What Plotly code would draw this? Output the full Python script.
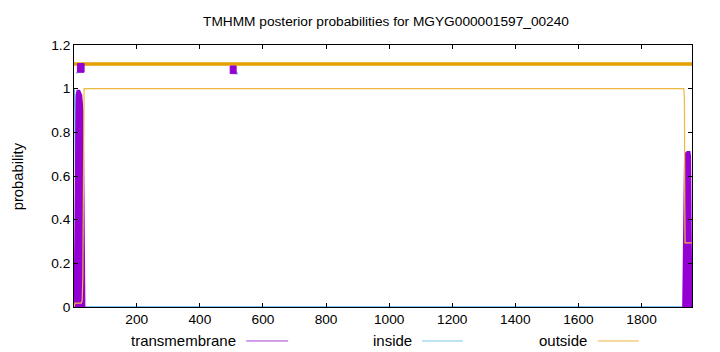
import plotly.graph_objects as go

# ---- data ----
title_text = "TMHMM posterior probabilities for MGYG000001597_00240"
y_label = "probability"
seq_len = 1960

# posterior curves (position, probability) -- transmembrane has two peaks
tm1_x = [1, 3, 5, 7, 9, 12, 18, 24, 28, 30, 32, 33, 34]
tm1_y = [0.0, 0.02, 0.3, 0.85, 0.97, 0.99, 0.99, 0.97, 0.9, 0.7, 0.3, 0.05, 0.0]
tm2_x = [1932, 1934, 1936, 1938, 1945, 1952, 1954, 1955, 1956, 1957, 1958]
tm2_y = [0.0, 0.2, 0.6, 0.7, 0.71, 0.71, 0.69, 0.55, 0.2, 0.02, 0.0]

in_x = [1, 2, 4, 6, 8, 10, 12, 1950, 1954, 1957, 1960]
in_y = [1.0, 0.99, 0.9, 0.5, 0.15, 0.02, 0.0, 0.0, 0.02, 0.1, 0.16]

out_x = [1, 4, 24, 27, 29, 30, 31, 32, 33, 1934, 1936, 1937, 1938, 1960]
out_y = [0.0, 0.018, 0.018, 0.03, 0.14, 0.3, 0.6, 0.9, 1.0, 1.0, 0.95, 0.5, 0.294, 0.294]

# predicted topology bar along the top
top_out_x = [1, 1960]
top_out_level = 1.113
tm_box_x0 = [12, 496]
tm_box_x1 = [33, 515]
tm_box_y0 = [1.075, 1.069]
tm_box_y1 = [1.115, 1.104]
in_mark_x0 = [8, 514]
in_mark_x1 = [12, 520]
in_mark_y0 = [1.068, 1.065]
in_mark_y1 = [1.078, 1.075]

x_ticks = [200, 400, 600, 800, 1000, 1200, 1400, 1600, 1800]
y_ticks = [0, 0.2, 0.4, 0.6, 0.8, 1.0, 1.2]
y_tick_text = ["0", "0.2", "0.4", "0.6", "0.8", "1", "1.2"]

legend_names = ["transmembrane", "inside", "outside"]

# ---- style ----
C_TM = "#9400D3"
C_IN = "#56B4E9"
C_OUT = "#E69F00"
FONT = "Liberation Sans"

ml, mr, mt, mb = 73.6, 27.7, 44.7, 45
W, H = 720, 352
pw, ph = W - ml - mr, H - mt - mb


def px(x):
    return (x - ml) / pw


def py(y):
    return (H - mb - y) / ph


fig = go.Figure()

# top topology bar
fig.add_trace(go.Scatter(x=top_out_x, y=[top_out_level] * len(top_out_x), mode="lines",
                         line=dict(color=C_OUT, width=3.5), hoverinfo="skip", showlegend=False))
for x0, x1, y0, y1 in zip(in_mark_x0, in_mark_x1, in_mark_y0, in_mark_y1):
    fig.add_trace(go.Scatter(x=[x0, x1, x1, x0, x0], y=[y0, y0, y1, y1, y0], mode="lines",
                             fill="toself", fillcolor=C_IN, line=dict(color=C_IN, width=0),
                             hoverinfo="skip", showlegend=False))
for x0, x1, y0, y1 in zip(tm_box_x0, tm_box_x1, tm_box_y0, tm_box_y1):
    fig.add_trace(go.Scatter(x=[x0, x1, x1, x0, x0], y=[y0, y0, y1, y1, y0], mode="lines",
                             fill="toself", fillcolor=C_TM, line=dict(color=C_TM, width=1),
                             hoverinfo="skip", showlegend=False))

# posterior curves
fig.add_trace(go.Scatter(x=in_x, y=in_y, mode="lines", line=dict(color=C_IN, width=1.5),
                         showlegend=False))
for tx, ty in ((tm1_x, tm1_y), (tm2_x, tm2_y)):
    fig.add_trace(go.Scatter(x=tx, y=ty, mode="lines", fill="tozeroy", fillcolor=C_TM,
                             line=dict(color=C_TM, width=2), showlegend=False))
fig.add_trace(go.Scatter(x=out_x, y=out_y, mode="lines", line=dict(color="#F0B840", width=1.2),
                         showlegend=False))

# legend drawn beneath the plot (pixel positions converted to paper coords)
legend_text_right = [238, 414, 589]
legend_line_x = [(246, 288), (422, 463), (598, 639)]
legend_colors = ["#A040D0", "#80C4EC", "#ECB640"]
ly = 341

for name, tr, (l0, l1), c in zip(legend_names, legend_text_right, legend_line_x, legend_colors):
    fig.add_annotation(x=px(tr), y=py(ly), xref="paper", yref="paper", text=name,
                       showarrow=False, xanchor="right", yanchor="middle",
                       font=dict(family=FONT, size=15, color="#000"))
    fig.add_shape(type="line", xref="paper", yref="paper", x0=px(l0), x1=px(l1),
                  y0=py(ly), y1=py(ly), line=dict(color=c, width=1))

# y-axis title
fig.add_annotation(x=px(17.7), y=py(176), xref="paper", yref="paper", text=y_label,
                   textangle=-90, showarrow=False, xanchor="center", yanchor="middle",
                   font=dict(family=FONT, size=14.8, color="#000"))

fig.update_layout(
    width=W, height=H,
    margin=dict(l=ml, r=mr, t=mt, b=mb),
    paper_bgcolor="white", plot_bgcolor="white",
    font=dict(family=FONT, size=13.7, color="#000"),
    title=dict(text=title_text, x=386 / W, xanchor="center", y=1 - 21 / H, yanchor="middle",
               font=dict(family=FONT, size=13.7)),
    showlegend=False,
    xaxis=dict(range=[1, seq_len], tickvals=x_ticks, ticks="inside", ticklen=4,
               tickcolor="#000", showgrid=False, zeroline=False, showline=True,
               linecolor="#000", linewidth=1, mirror="ticks", tickfont=dict(size=13.7)),
    yaxis=dict(range=[0, 1.2], tickvals=y_ticks, ticktext=y_tick_text, ticks="inside",
               ticklen=4, tickcolor="#000", showgrid=False, zeroline=False, showline=True,
               linecolor="#000", linewidth=1, mirror="ticks", tickfont=dict(size=13.7)),
)

fig.write_html("out.html")
